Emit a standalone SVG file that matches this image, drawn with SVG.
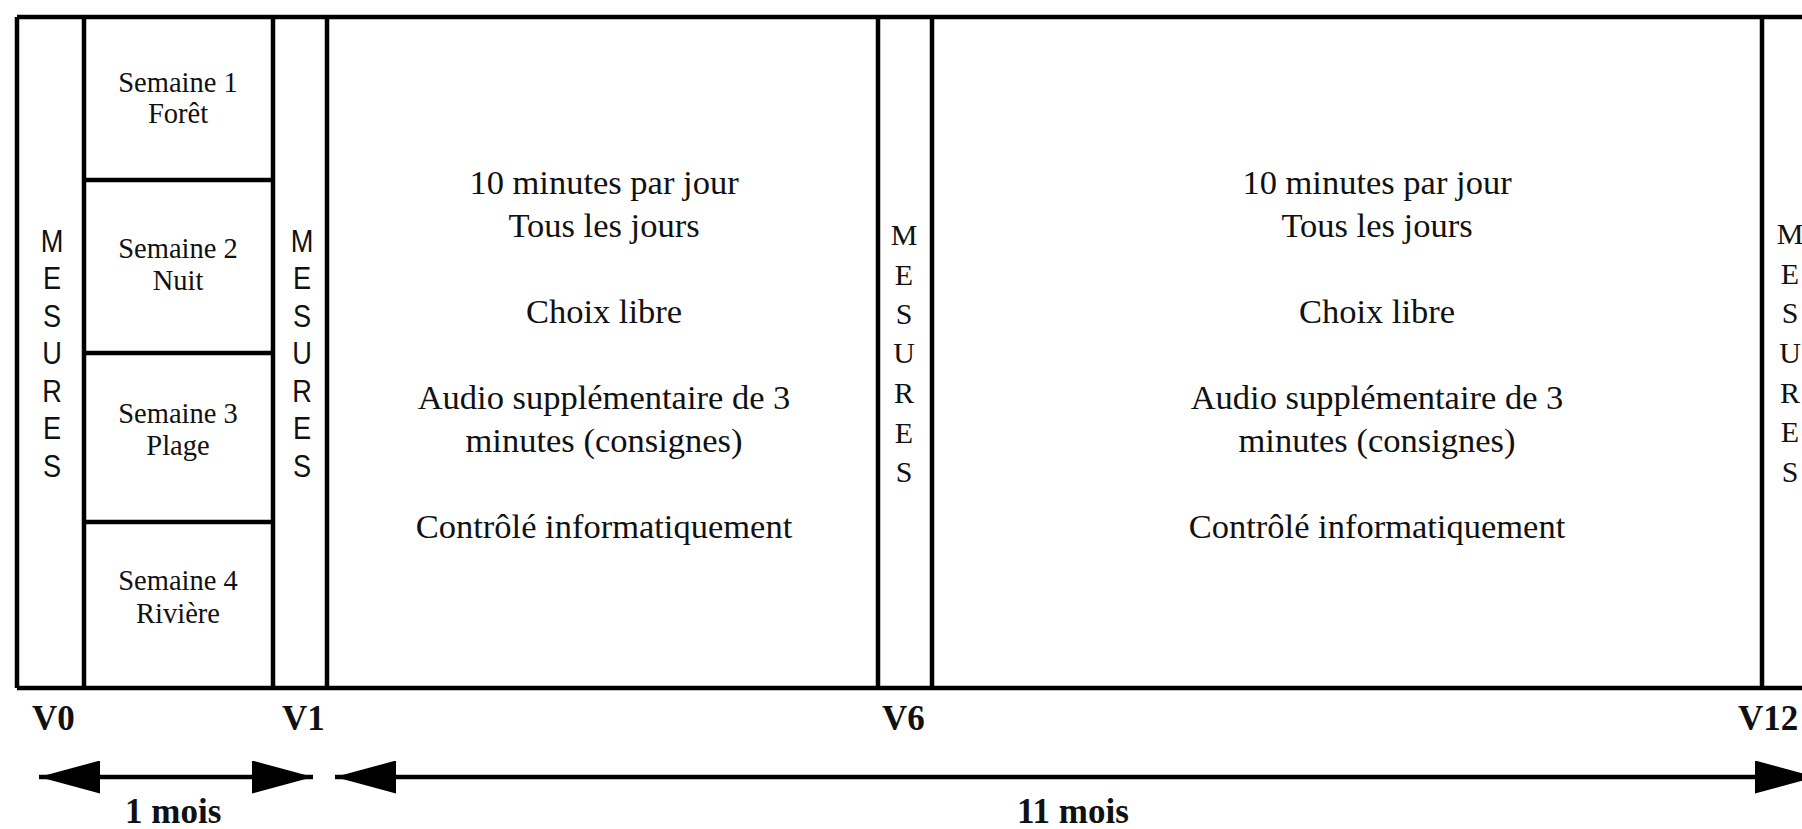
<svg xmlns="http://www.w3.org/2000/svg" width="1802" height="829" viewBox="0 0 1802 829">
<style>
.ln{stroke:#000;stroke-width:4.5;fill:none}
.sans{font-family:"Liberation Sans",Arial,sans-serif;font-size:32px;fill:#111;text-anchor:middle}
.ser{font-family:"Liberation Serif","Times New Roman",serif;fill:#111;text-anchor:middle}
.main{font-size:34.5px}
.wk{font-size:28.5px}
.vm{font-size:30px}
.bold{font-family:"Liberation Serif","Times New Roman",serif;font-weight:bold;font-size:35px;fill:#111}
</style>
<defs>
<marker id="ah" viewBox="0 0 61 33" refX="61" refY="16.5" markerWidth="61" markerHeight="33" markerUnits="userSpaceOnUse" orient="auto-start-reverse">
<path d="M0,0 L61,16.5 L0,33 Z" fill="#000"/>
</marker>
</defs>
<rect width="1802" height="829" fill="#fff"/>
<g id="frame">
<path class="ln" d="M17,17 H1810 M17,688 H1810 M17,17 V688"/>
<path class="ln" d="M84,17 V688 M273,17 V688 M327,17 V688 M878,17 V688 M932,17 V688 M1762,17 V688"/>
<path class="ln" d="M84,180 H273 M84,353 H273 M84,522 H273"/>
</g>
<g id="mesures-v0">
<g transform="translate(52,0) scale(0.85,1)">
<text class="sans"><tspan x="0" y="252">M</tspan><tspan x="0" y="289.5">E</tspan><tspan x="0" y="327">S</tspan><tspan x="0" y="364.5">U</tspan><tspan x="0" y="402">R</tspan><tspan x="0" y="439.5">E</tspan><tspan x="0" y="477">S</tspan></text>
</g>
</g>
<g id="semaine1"><text class="ser wk"><tspan x="178" y="92">Semaine 1</tspan><tspan x="178" y="123">Forêt</tspan></text></g>
<g id="semaine2"><text class="ser wk"><tspan x="178" y="258">Semaine 2</tspan><tspan x="178" y="290">Nuit</tspan></text></g>
<g id="semaine3"><text class="ser wk"><tspan x="178" y="423">Semaine 3</tspan><tspan x="178" y="455">Plage</tspan></text></g>
<g id="semaine4"><text class="ser wk"><tspan x="178" y="590">Semaine 4</tspan><tspan x="178" y="623">Rivière</tspan></text></g>
<g id="mesures-v1">
<g transform="translate(302,0) scale(0.85,1)">
<text class="sans"><tspan x="0" y="252">M</tspan><tspan x="0" y="289.5">E</tspan><tspan x="0" y="327">S</tspan><tspan x="0" y="364.5">U</tspan><tspan x="0" y="402">R</tspan><tspan x="0" y="439.5">E</tspan><tspan x="0" y="477">S</tspan></text>
</g>
</g>
<g id="phase1">
<text class="ser main"><tspan x="604" y="194">10 minutes par jour</tspan><tspan x="604" y="237">Tous les jours</tspan><tspan x="604" y="323">Choix libre</tspan><tspan x="604" y="409">Audio supplémentaire de 3</tspan><tspan x="604" y="452">minutes (consignes)</tspan><tspan x="604" y="538">Contrôlé informatiquement</tspan></text>
</g>
<g id="mesures-v6">
<text class="ser vm"><tspan x="904" y="245">M</tspan><tspan x="904" y="285">E</tspan><tspan x="904" y="324">S</tspan><tspan x="904" y="363">U</tspan><tspan x="904" y="403">R</tspan><tspan x="904" y="443">E</tspan><tspan x="904" y="482">S</tspan></text>
</g>
<g id="phase2">
<text class="ser main"><tspan x="1377" y="194">10 minutes par jour</tspan><tspan x="1377" y="237">Tous les jours</tspan><tspan x="1377" y="323">Choix libre</tspan><tspan x="1377" y="409">Audio supplémentaire de 3</tspan><tspan x="1377" y="452">minutes (consignes)</tspan><tspan x="1377" y="538">Contrôlé informatiquement</tspan></text>
</g>
<g id="mesures-v12">
<text class="ser vm"><tspan x="1790" y="244">M</tspan><tspan x="1790" y="284">E</tspan><tspan x="1790" y="323">S</tspan><tspan x="1790" y="363">U</tspan><tspan x="1790" y="403">R</tspan><tspan x="1790" y="442">E</tspan><tspan x="1790" y="482">S</tspan></text>
</g>
<g id="labels">
<text class="bold" x="32" y="730">V0</text>
<text class="bold" x="282" y="730">V1</text>
<text class="bold" x="882" y="730">V6</text>
<text class="bold" x="1738" y="730">V12</text>
<text class="bold" x="125" y="823">1 mois</text>
<text class="bold" x="1017" y="823">11 mois</text>
</g>
<g id="connectors">
<line class="ln" x1="39" y1="777" x2="313" y2="777" marker-start="url(#ah)" marker-end="url(#ah)"/>
<line class="ln" x1="335" y1="777" x2="1816" y2="777" marker-start="url(#ah)" marker-end="url(#ah)"/>
</g>
</svg>
